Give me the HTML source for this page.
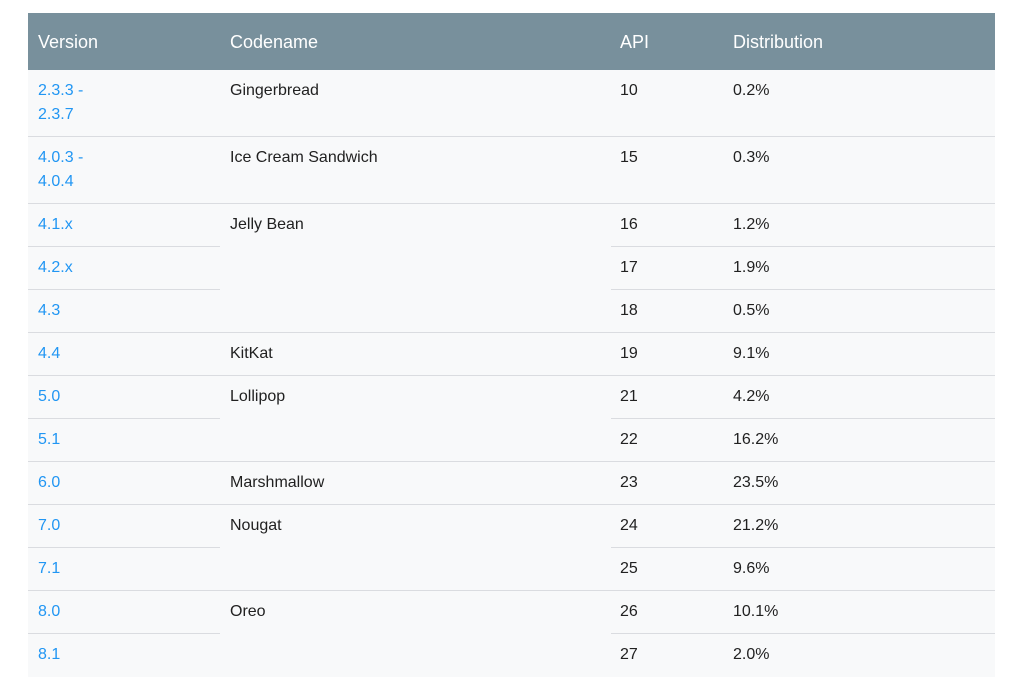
<!DOCTYPE html>
<html><head><meta charset="utf-8">
<style>
html,body{margin:0;padding:0;background:#fff;width:1024px;height:697px;overflow:hidden;font-family:"Liberation Sans",sans-serif;}
#tbl{position:absolute;left:28px;top:13px;width:967px;height:664px;background:#f8f9fa;}
#hdr{position:absolute;left:0;top:0;width:967px;height:57px;background:#78909c;color:#fff;font-size:18px;}
.h{position:absolute;top:19px;}
.c{position:absolute;font-size:16px;color:#212121;line-height:24px;}
.v{color:#2196f3;}
.ln{position:absolute;height:1px;background:#dadce0;}
</style></head><body>
<div id="tbl">
<div id="hdr">
<span class="h" style="left:10px">Version</span>
<span class="h" style="left:202px">Codename</span>
<span class="h" style="left:592px">API</span>
<span class="h" style="left:705px">Distribution</span>
</div>
</div>
<script>
const versions=["2.3.3 -<br>2.3.7","4.0.3 -<br>4.0.4","4.1.x","4.2.x","4.3","4.4","5.0","5.1","6.0","7.0","7.1","8.0","8.1"];
const codenames=["Gingerbread","Ice Cream Sandwich","Jelly Bean","","","KitKat","Lollipop","","Marshmallow","Nougat","","Oreo",""];
const apis=["10","15","16","17","18","19","21","22","23","24","25","26","27"];
const dists=["0.2%","0.3%","1.2%","1.9%","0.5%","9.1%","4.2%","16.2%","23.5%","21.2%","9.6%","10.1%","2.0%"];
const t=document.getElementById('tbl');
let y=57;
for(let i=0;i<versions.length;i++){
  const h=i<2?67:43;
  if(i>0){
    const ln=document.createElement('div');ln.className='ln';
    
    
    const full=codenames[i]!=="";
    if(full){ln.style.left='0px';ln.style.width='967px';ln.style.top=(y-1)+'px';t.appendChild(ln);}
    else{
      ln.style.left='0px';ln.style.width='192px';ln.style.top=(y-1)+'px';t.appendChild(ln);
      const l2=document.createElement('div');l2.className='ln';
      
      
      l2.style.left='583px';l2.style.width='384px';l2.style.top=(y-1)+'px';t.appendChild(l2);
    }
  }
  const ty=y+9;
  const v=document.createElement('a');v.className='c v';v.innerHTML=versions[i];
  
  
  v.style.left='10px';v.style.top=ty+'px';t.appendChild(v);
  if(codenames[i]){
    const c=document.createElement('span');c.className='c';c.textContent=codenames[i];
    
    
    c.style.left='202px';c.style.top=ty+'px';t.appendChild(c);
  }
  const a=document.createElement('span');a.className='c';a.textContent=apis[i];
  
  
  a.style.left='592px';a.style.top=ty+'px';t.appendChild(a);
  const d=document.createElement('span');d.className='c';d.textContent=dists[i];
  
  
  d.style.left='705px';d.style.top=ty+'px';t.appendChild(d);
  y+=h;
}
</script>
</body></html>
